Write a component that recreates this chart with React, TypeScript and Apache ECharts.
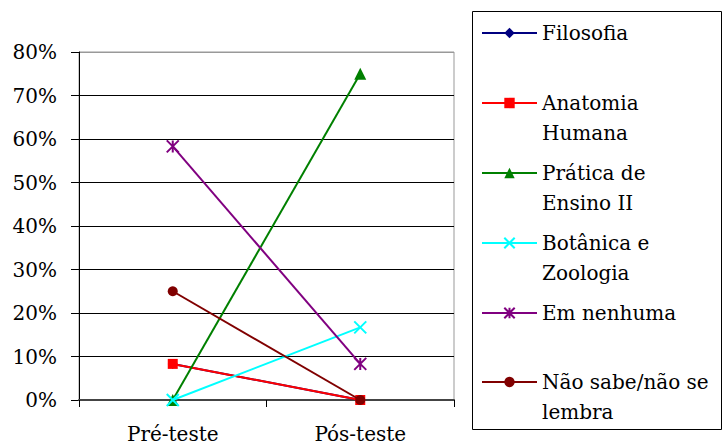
import React, { useEffect, useRef } from 'react';
import * as echarts from 'echarts';

const categories = ['Pré-teste', 'Pós-teste'];
const seriesNames = [
  'Filosofia',
  'Anatomia Humana',
  'Prática de Ensino II',
  'Botânica e Zoologia',
  'Em nenhuma',
  'Não sabe/não se lembra',
];
const legendLabels = [
  'Filosofia',
  'Anatomia\nHumana',
  'Prática de\nEnsino II',
  'Botânica e\nZoologia',
  'Em nenhuma',
  'Não sabe/não se\nlembra',
];
const filosofia = [8.3, 0];
const anatomia = [8.3, 0];
const pratica = [0, 75];
const botanica = [0, 16.7];
const nenhuma = [58.3, 8.3];
const naoSabe = [25, 0];
const seriesValues = [filosofia, anatomia, pratica, botanica, nenhuma, naoSabe];

const colors = ['#000080', '#FF0000', '#008000', '#00FFFF', '#800080', '#800000'];
const symbols = [
  'diamond',
  'rect',
  'triangle',
  'path://M0,0L10,10M10,0L0,10',
  'path://M0,0L10,10M10,0L0,10M5,0L5,10',
  'circle',
];
const symbolSizes = [10, 10, 12, 12, 12, 10];
const strokeOnly = [false, false, false, true, true, false];
const legendTops = [18, 58, 128, 198, 298, 337];

const FONT = 'DejaVu Serif';

export default function App() {
  const ref = useRef<HTMLDivElement>(null);
  useEffect(() => {
    if (!ref.current) return;
    const chart = echarts.init(ref.current, null, { renderer: 'svg' });
    const series = seriesNames.map((name, i) => ({
      name,
      type: 'line',
      data: seriesValues[i],
      symbol: symbols[i],
      symbolSize: symbolSizes[i],
      showSymbol: true,
      lineStyle: { color: colors[i], width: 2 },
      itemStyle: strokeOnly[i]
        ? { color: colors[i], borderColor: colors[i], borderWidth: 2 }
        : { color: colors[i], borderWidth: 0 },
      z: 2 + i,
    }));
    const legends = seriesNames.map((name, i) => ({
      show: true,
      orient: 'vertical',
      left: 481,
      top: legendTops[i],
      padding: 0,
      itemWidth: 55,
      itemHeight: 13,
      selectedMode: false,
      data: [name],
      formatter: () => (legendLabels[i].includes('\n') ? '\n' + legendLabels[i] : legendLabels[i]),
      textStyle: { fontFamily: FONT, fontSize: 20, lineHeight: 30, color: '#000' },
    }));
    chart.setOption({
      animation: false,
      grid: {
        left: 79,
        right: 268,
        top: 52,
        bottom: 46,
        show: true,
        borderColor: '#999',
        borderWidth: 1,
        backgroundColor: 'transparent',
        outerBoundsMode: 'none',
      },
      legend: legends,
      graphic: [
        {
          type: 'rect',
          shape: { x: 472.5, y: 11.5, width: 249, height: 418 },
          style: { fill: 'none', stroke: '#000', lineWidth: 1 },
          silent: true,
          z: -1,
        },
      ],
      xAxis: {
        type: 'category',
        data: categories,
        boundaryGap: true,
        axisLine: { show: true, lineStyle: { color: '#444', width: 2 } },
        axisTick: { show: true, length: 7, inside: false, lineStyle: { color: '#000' } },
        axisLabel: { fontFamily: FONT, fontSize: 20, color: '#000', margin: 24 },
        splitLine: { show: false },
        z: 1,
      },
      yAxis: {
        type: 'value',
        min: 0,
        max: 80,
        interval: 10,
        axisLine: { show: true, lineStyle: { color: '#000', width: 1 } },
        axisTick: { show: true, length: 8, inside: false, lineStyle: { color: '#000' } },
        axisLabel: { fontFamily: FONT, fontSize: 20, color: '#000', margin: 22, formatter: '{value}%' },
        splitLine: {
          show: true,
          lineStyle: {
            color: ['#000', '#000', '#000', '#000', '#000', '#000', '#000', '#000', '#999'],
            width: 1,
          },
        },
      },
      series,
    });
    return () => chart.dispose();
  }, []);
  return (
    <div
      ref={ref}
      style={{ position: 'fixed', left: 0, top: 0, width: 722, height: 446, background: '#fff' }}
    />
  );
}
